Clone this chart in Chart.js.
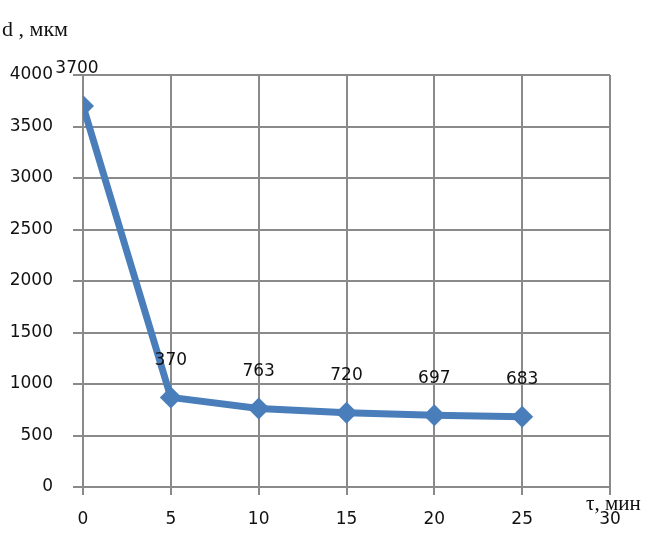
<!DOCTYPE html>
<html>
<head>
<meta charset="utf-8">
<script src="https://cdn.jsdelivr.net/npm/chart.js@4"></script>
<style>
  body { margin: 0; background: #fff; }
  #wrap { width: 668px; height: 559px; }
</style>
</head>
<body>
<div id="wrap"><canvas id="myChart" width="668" height="559"></canvas></div>
<script>
// Data
var timeMin = [0, 5, 10, 15, 20, 25];
var sizeUm = [3700, 870, 763, 720, 697, 683];
var pointLabels = ["3700", "370", "763", "720", "697", "683"];
var yTitle = "d , мкм";
var xTitle = "τ, мин";

var blue = "#4a7ebb";
var gridColor = "#8a8a8a";
var tickFont = { family: "DejaVu Sans", size: 17 };

// Draws the value labels above the points and the two axis titles
var labelsPlugin = {
    id: "labelsPlugin",
    afterDatasetsDraw: function(chart) {
        var ctx = chart.ctx;
        var meta = chart.getDatasetMeta(0);
        ctx.save();
        ctx.fillStyle = "#111";
        ctx.font = "17px 'DejaVu Sans'";
        ctx.textAlign = "center";
        ctx.textBaseline = "middle";
        for (var i = 0; i < meta.data.length; i++) {
            var p = meta.data[i];
            ctx.fillText(pointLabels[i], p.x - (i === 0 ? 6 : 0), p.y - 37);
        }
        var area = chart.chartArea;
        ctx.textAlign = "left";
        ctx.font = "22px 'Liberation Serif'";
        ctx.fillText(yTitle, 2, area.top - 45);
        ctx.font = "21px 'Liberation Serif'";
        ctx.fillText(xTitle, area.right - 24, area.bottom + 17);
        ctx.restore();
    }
};

var ctx = document.getElementById("myChart").getContext("2d");
var chart = new Chart(ctx, {
    type: "line",
    data: {
        labels: timeMin,
        datasets: [{
            data: sizeUm,
            borderColor: blue,
            backgroundColor: blue,
            borderWidth: 7,
            pointStyle: "rectRot",
            pointRadius: 11,
            pointBorderWidth: 0,
            fill: false,
            tension: 0
        }]
    },
    options: {
        responsive: false,
        animation: false,
        layout: { padding: { top: 75, right: 58, left: 0, bottom: 0 } },
        plugins: { legend: { display: false }, tooltip: { enabled: false } },
        scales: {
            x: {
                type: "linear",
                min: 0,
                max: 30,
                ticks: { stepSize: 5, color: "#111", font: tickFont, padding: 14 },
                grid: { color: gridColor, lineWidth: 2, tickLength: 8 },
                border: { display: false },
                afterFit: function(scale) { scale.height = 72; }
            },
            y: {
                min: 0,
                max: 4000,
                ticks: {
                    stepSize: 500, color: "#111", font: tickFont, padding: 20,
                    callback: function(v) { return String(v); }
                },
                grid: { color: gridColor, lineWidth: 2, tickLength: 10 },
                border: { display: false },
                afterFit: function(scale) { scale.width = 83; }
            }
        }
    },
    plugins: [labelsPlugin]
});
</script>
</body>
</html>
